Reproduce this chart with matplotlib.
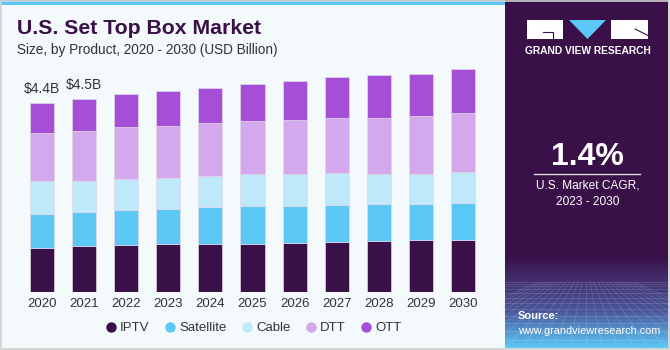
import numpy as np
import matplotlib
matplotlib.use("Agg")
import matplotlib.pyplot as plt
from matplotlib.patches import Rectangle, Polygon
from matplotlib.lines import Line2D

years = ["2020", "2021", "2022", "2023", "2024", "2025", "2026", "2027", "2028", "2029", "2030"]
iptv = [1.03, 1.07, 1.10, 1.11, 1.12, 1.13, 1.14, 1.17, 1.18, 1.22, 1.22]
satellite = [0.79, 0.80, 0.82, 0.82, 0.85, 0.88, 0.87, 0.85, 0.86, 0.84, 0.86]
cable = [0.77, 0.72, 0.72, 0.73, 0.74, 0.74, 0.75, 0.75, 0.70, 0.70, 0.72]
dtt = [1.11, 1.16, 1.20, 1.20, 1.23, 1.24, 1.24, 1.29, 1.32, 1.34, 1.38]
ott = [0.70, 0.75, 0.78, 0.82, 0.82, 0.85, 0.92, 0.94, 0.99, 0.99, 1.02]
series_names = ["IPTV", "Satellite", "Cable", "DTT", "OTT"]
series_colors = ["#3A1048", "#5BC8F5", "#BDE9FA", "#D4A8EC", "#A54FD6"]
value_labels = {0: "$4.4B", 1: "$4.5B"}

W, H = 670, 350
FONT = "Liberation Sans"
fig = plt.figure(figsize=(W / 100, H / 100), dpi=100)
fig.patch.set_facecolor("#F4F9FC")


def fx(px):
    return px / W


def fy(py):
    return 1 - py / H


# overlay axes for decorations in pixel coords
deco = fig.add_axes([0, 0, 1, 1])
deco.set_xlim(0, W)
deco.set_ylim(H, 0)
deco.axis("off")
deco.set_zorder(0)

# top cyan strip
deco.add_patch(Rectangle((0, 0), 505, 5, color="#5BC8F5", lw=0))
# right panel
panel_x0, panel_x1 = 505, 668
deco.add_patch(Rectangle((panel_x0, 0), panel_x1 - panel_x0, 348, color="#3A1048", lw=0))
# gradient at the bottom of panel
grad = np.linspace(0, 1, 100)
c0 = np.array([0x3A, 0x10, 0x48]) / 255
c1 = np.array([0x4A, 0x55, 0x9A]) / 255
c2 = np.array([0x5B, 0xC8, 0xF5]) / 255
img = np.zeros((100, 1, 3))
for i, g in enumerate(grad):
    if g < 0.6:
        t = g / 0.6
        img[i, 0] = c0 * (1 - t) + c1 * t
    else:
        t = (g - 0.6) / 0.4
        img[i, 0] = c1 * (1 - t) + c2 * t
deco.imshow(img, extent=(panel_x0, panel_x1, 348, 255), aspect="auto", zorder=1)
# faint grid in panel bottom
for k in range(14):
    yy = 282 + k * (k + 4) * 0.35
    if yy < 348:
        deco.plot([panel_x0, panel_x1], [yy, yy], color="white", alpha=0.15, lw=0.6, zorder=2)
for k in range(-12, 13):
    deco.plot([586 + k * 4, 586 + k * 16], [282, 348], color="white", alpha=0.15, lw=0.6, zorder=2)

# outer border
deco.add_patch(Rectangle((0.5, 0.5), W - 1.5, H - 2, fill=False, ec="#CFCFCF", lw=1.2, zorder=5))

# logo
deco.add_patch(Rectangle((527, 20), 36, 19, color="white", lw=0, zorder=3))
deco.plot([543, 553, 553], [32, 32, 39], color="#3A1048", lw=0.8, zorder=4)
deco.add_patch(Polygon([(569, 20), (606, 20), (587.5, 39)], closed=True, color="#5BC8F5", lw=0, zorder=3))
deco.add_patch(Rectangle((611, 20), 37, 19, color="white", lw=0, zorder=3))
deco.plot([635, 648], [29, 35.5], color="#3A1048", lw=0.8, zorder=4)
deco.text(587.5, 51, "GRAND VIEW RESEARCH", color="white", fontsize=7.4, fontweight="bold",
          family=FONT, ha="center", va="center", zorder=4)

# CAGR
deco.text(587.5, 157, "1.4%", color="white", fontsize=23, fontweight="bold",
          family=FONT, ha="center", va="center", zorder=4)
deco.plot([534, 640], [173.5, 173.5], color="#DDDDDD", lw=1, zorder=4)
deco.text(587.5, 186, "U.S. Market CAGR,", color="white", fontsize=8.6,
          family=FONT, ha="center", va="center", zorder=4)
deco.text(587.5, 202, "2023 - 2030", color="white", fontsize=8.6,
          family=FONT, ha="center", va="center", zorder=4)
deco.text(518, 316, "Source:", color="white", fontsize=8, fontweight="bold",
          family=FONT, ha="left", va="center", zorder=4)
deco.text(518, 331, "www.grandviewresearch.com", color="white", fontsize=7.8,
          family=FONT, ha="left", va="center", zorder=4)

# titles
deco.text(17, 29, "U.S. Set Top Box Market", color="#3A1048", fontsize=15.3, fontweight="heavy",
          family=FONT, ha="left", va="center", zorder=4)
deco.text(17, 50, "Size, by Product, 2020 - 2030 (USD Billion)", color="#333333", fontsize=9.8,
          family=FONT, ha="left", va="center", zorder=4)

# main chart axes
ax_top_px, ax_bot_px = 60, 292
ax_left_px, ax_right_px = 0, 505
ax = fig.add_axes([fx(ax_left_px), fy(ax_bot_px), fx(ax_right_px - ax_left_px),
                   (ax_bot_px - ax_top_px) / H])
ax.set_zorder(2)
ax.patch.set_alpha(0)
px_per_unit = 42.9
spacing = 42.1
c0_px = 42
x = np.arange(len(years))
ax.set_xlim((ax_left_px - c0_px) / spacing, (ax_right_px - c0_px) / spacing)
ax.set_ylim(0, (ax_bot_px - ax_top_px) / px_per_unit)
for s in ax.spines.values():
    s.set_visible(False)
ax.set_yticks([])
ax.set_xticks(x)
ax.set_xticklabels(years, fontsize=9.5, family=FONT, color="#333333")
ax.tick_params(axis="x", length=0, pad=4)

width = 24 / spacing
bottom = np.zeros(len(years))
data = [iptv, satellite, cable, dtt, ott]
for name, vals, col in zip(series_names, data, series_colors):
    ax.bar(x, vals, width, bottom=bottom, color=col, edgecolor="#E2D6EA", linewidth=0.5, label=name)
    bottom = bottom + np.array(vals)

for i, lbl in value_labels.items():
    ax.annotate(lbl, (x[i], bottom[i]), xytext=(0, 5), textcoords="offset points",
                ha="center", va="bottom", fontsize=10, family=FONT, color="#333333",
                annotation_clip=False)

handles = [Line2D([0], [0], marker="o", ls="", markersize=6.5, markerfacecolor=c, markeredgecolor=c)
           for c in series_colors]
fig.legend(handles, series_names, loc="center", bbox_to_anchor=(fx(253), fy(328)), ncol=5,
           frameon=False, prop={"family": FONT, "size": 9.5}, handletextpad=0.2,
           columnspacing=1.05, handlelength=1.0, labelcolor="#333333")

fig.savefig("out.png", dpi=100, facecolor=fig.get_facecolor())
